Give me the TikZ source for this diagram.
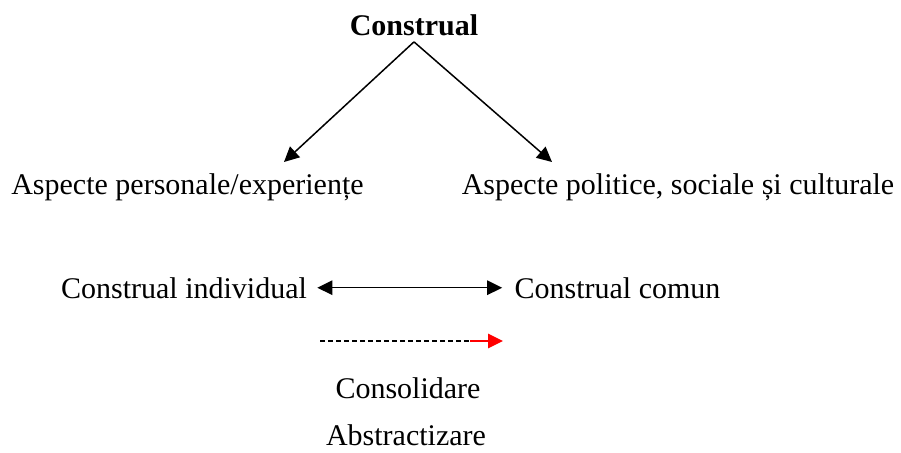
\documentclass[tikz,border=0pt]{standalone}
\usepackage{fontspec}
\setmainfont{Liberation Serif}
\usepackage{xcolor}
\usepackage{tikz}
\usetikzlibrary{arrows.meta,positioning,calc}

\begin{document}
\begin{tikzpicture}[x=0.4pt,y=-0.4pt]
		\tikzstyle{lbl}=[inner sep=2pt,font=\fontsize{12}{14}\selectfont,anchor=base]
		\tikzstyle{arr}=[line width=0.6pt,-{Triangle[length=6pt,width=5.8pt]}]
		\tikzstyle{darr}=[line width=0.6pt,{Triangle[length=6pt,width=5.8pt]}-{Triangle[length=6pt,width=5.8pt]}]
		\useasboundingbox (0,0) rectangle (901,453);
		\node[lbl] (construal) at (414,36) {\bfseries Construal};
		\node[lbl] (personal)  at (187.5,194) {Aspecte personale/experiențe};
		\node[lbl] (politic)   at (678,194) {Aspecte politice, sociale și culturale};
		\node[lbl,inner sep=4pt] (indiv) at (184,298) {Construal individual};
		\node[lbl,inner sep=4.8pt] (comun) at (617.5,298) {Construal comun};
		\node[lbl] (consol)   at (408,398) {Consolidare};
		\node[lbl] (abstract) at (406,445) {Abstractizare};
		\coordinate (tipL) at (284,162);
		\coordinate (tipR) at (552,162);
		\coordinate (dashA) at (320,341);
		\coordinate (dashB) at (470,341);
		\coordinate (dashC) at (503,341);
		\draw[arr] (construal.south) -- (tipL);
		\draw[arr] (construal.south) -- (tipR);
		\draw[darr] (indiv.east) -- (comun.west);
		\draw[line width=0.6pt,dash pattern=on 2pt off 1.2pt] (dashA) -- (dashB);
		\draw[arr,red] (dashB) -- (dashC);
	\end{tikzpicture}
\end{document}
